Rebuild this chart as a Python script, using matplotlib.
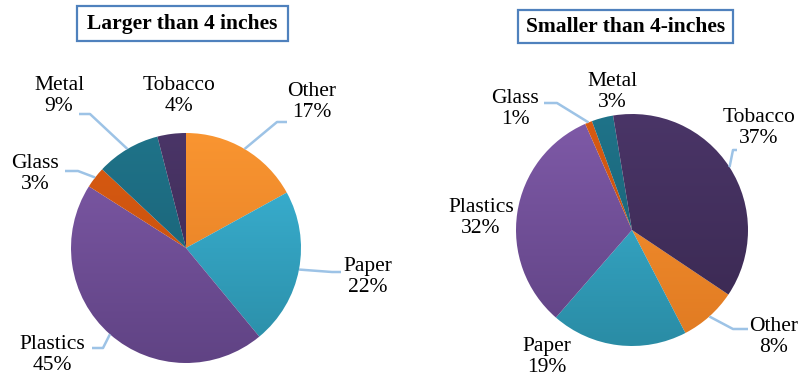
import matplotlib.pyplot as plt
import matplotlib.colors as mcolors
from matplotlib.patches import Rectangle
import numpy as np

W, H = 805, 381

categories = ["Other", "Paper", "Plastics", "Glass", "Metal", "Tobacco"]
large_pct = [17, 22, 45, 3, 9, 4]
small_pct = [8, 19, 32, 1, 3, 37]

# light (top) / dark (bottom) shade per category
light = ["#F99531", "#3CB6D9", "#7F5AA8", "#D85B12", "#1F7389", "#4A3567"]
dark = ["#E07A22", "#2A8CA5", "#604384", "#C24C0C", "#195C70", "#392850"]

plt.rcParams['font.family'] = ['Liberation Serif', 'DejaVu Serif']

fig = plt.figure(figsize=(W / 100, H / 100), dpi=100)
ax = fig.add_axes([0, 0, 1, 1])


def py(y):
    # pixel row (from top) -> data y
    return H - y


def draw_pie(vals, cx, cy, r, start):
    wedges, _ = ax.pie(vals, center=(cx, py(cy)), radius=r, startangle=start,
                       counterclock=False, colors=light,
                       wedgeprops=dict(linewidth=0))
    for i, w in enumerate(wedges):
        c1 = np.array(mcolors.to_rgb(light[i]))
        c2 = np.array(mcolors.to_rgb(dark[i]))
        t = np.linspace(0, 1, 128)[:, None]
        grad = (c1 * (1 - t) + c2 * t)[:, None, :]
        im = ax.imshow(grad, extent=(cx - r, cx + r, py(cy) - r, py(cy) + r),
                       origin='upper', aspect='auto', zorder=1, interpolation='bilinear')
        im.set_clip_path(w)
        w.set_facecolor('none')
    return wedges


def edge_point(w):
    a = np.deg2rad((w.theta1 + w.theta2) / 2)
    cx, cy = w.center
    return cx + w.r * np.cos(a), cy + w.r * np.sin(a)


def label(text, x, y):
    ax.text(x, py(y), text, ha='center', va='center', fontsize=15.5,
            multialignment='center', linespacing=1.15, color='black')


def leader(w, pts):
    sx, sy = edge_point(w)
    xs = [sx] + [p[0] for p in pts]
    ys = [sy] + [py(p[1]) for p in pts]
    ax.plot(xs, ys, color='#9DC3E6', lw=1.8, solid_capstyle='butt', zorder=3)


wl = draw_pie(large_pct, 186, 248, 115, 90)
wr = draw_pie(small_pct, 632, 230, 116, -33.8)

# left pie labels
left_pos = {"Other": (312, 102), "Paper": (368, 277), "Plastics": (52, 355),
            "Glass": (35, 174), "Metal": (59, 96), "Tobacco": (179, 96)}
for i, c in enumerate(categories):
    x, y = left_pos[c]
    label(f"{c}\n{large_pct[i]}%", x, y)
leader(wl[0], [(277, 122), (287, 122)])
leader(wl[1], [(332, 272), (341, 272)])
leader(wl[2], [(103, 348), (92, 348)])
leader(wl[3], [(78, 171), (65, 171)])
leader(wl[4], [(90, 114), (79, 114)])

# right pie labels
right_pos = {"Other": (774, 337), "Paper": (547, 357), "Plastics": (481, 218),
             "Glass": (515, 109), "Metal": (612, 92), "Tobacco": (759, 128)}
for i, c in enumerate(categories):
    x, y = right_pos[c]
    label(f"{c}\n{small_pct[i]}%", x, y)
leader(wr[0], [(733, 329), (748, 329)])
leader(wr[3], [(557, 103), (544, 103)])
leader(wr[5], [(733, 150), (737, 150)])

# titles in boxes
for txt, (x0, y0, x1, y1) in [("Larger than 4 inches", (77, 6, 288, 41)),
                              ("Smaller than 4-inches", (518, 10, 733, 43))]:
    ax.add_patch(Rectangle((x0, py(y1)), x1 - x0, y1 - y0, fill=False,
                           edgecolor='#4F81BD', lw=1.6, zorder=4))
    ax.text((x0 + x1) / 2, py((y0 + y1) / 2 + 0.5), txt, ha='center', va='center',
            fontsize=15.5, fontweight='bold', zorder=5)

ax.set_xlim(0, W)
ax.set_ylim(0, H)
ax.set_aspect('auto')
ax.axis('off')

fig.savefig("out.png", dpi=100)
